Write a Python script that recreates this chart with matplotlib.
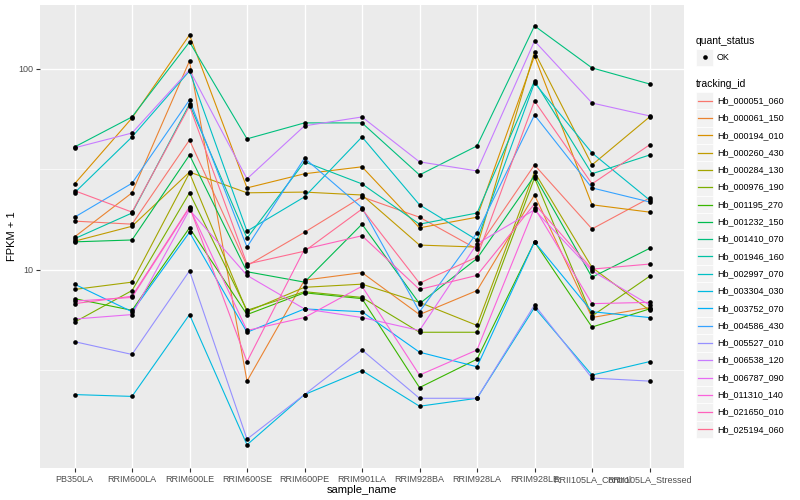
import numpy as np
import matplotlib
matplotlib.use('Agg')
import matplotlib.pyplot as plt
from matplotlib.patches import Rectangle

plt.rcParams['font.family'] = ['Liberation Sans', 'DejaVu Sans']

samples = ['PB350LA', 'RRIM600LA', 'RRIM600LE', 'RRIM600SE', 'RRIM600PE', 'RRIM901LA',
           'RRIM928BA', 'RRIM928LA', 'RRIM928LE', 'RRII105LA_Control', 'RRII105LA_Stressed']

tracking_ids = ['Hb_000051_060', 'Hb_000061_150', 'Hb_000194_010', 'Hb_000260_430', 'Hb_000284_130',
                'Hb_000976_190', 'Hb_001195_270', 'Hb_001232_150', 'Hb_001410_070', 'Hb_001946_160',
                'Hb_002997_070', 'Hb_003304_030', 'Hb_003752_070', 'Hb_004586_430', 'Hb_005527_010',
                'Hb_006538_120', 'Hb_006787_090', 'Hb_011310_140', 'Hb_021650_010', 'Hb_025194_060']

# FPKM + 1, one row per tracking_id, one column per sample
fpkm = [
    [17.5, 16.9, 44.3, 10.5, 15.4, 23.1, 18.3, 12.7, 33.3, 16.0, 22.8],
    [14.6, 24.2, 109.6, 2.8, 8.9, 9.7, 6.0, 7.9, 23.6, 5.8, 6.5],
    [26.8, 57.0, 147.6, 25.6, 30.1, 32.6, 16.2, 18.3, 116.1, 21.1, 19.4],
    [13.9, 16.5, 30.7, 24.2, 24.4, 23.6, 13.3, 13.0, 121.5, 33.3, 57.7],
    [8.0, 8.7, 30.4, 6.2, 8.2, 8.5, 6.9, 5.3, 30.7, 10.3, 6.3],
    [5.5, 7.9, 24.2, 6.3, 7.8, 7.3, 4.9, 4.9, 28.7, 5.9, 9.3],
    [7.2, 6.3, 16.2, 6.0, 7.7, 7.2, 2.6, 3.6, 13.8, 5.2, 6.4],
    [13.8, 14.1, 37.3, 9.8, 8.7, 16.9, 6.8, 11.4, 29.4, 9.2, 12.8],
    [40.9, 57.7, 136.2, 44.9, 53.9, 53.9, 29.7, 41.4, 163.7, 101.2, 84.2],
    [14.3, 19.2, 66.9, 14.4, 34.5, 26.8, 16.9, 19.2, 87.2, 30.1, 37.3],
    [24.2, 45.9, 97.7, 15.6, 23.1, 45.9, 21.1, 14.1, 85.2, 38.2, 22.3],
    [2.4, 2.35, 6.0, 1.35, 2.4, 3.16, 2.1, 2.3, 6.5, 3.0, 3.5],
    [8.5, 6.2, 15.4, 4.9, 6.4, 6.2, 3.9, 3.3, 13.8, 6.2, 5.8],
    [18.3, 27.0, 70.1, 13.0, 36.0, 20.4, 6.2, 15.3, 59.0, 25.6, 21.8],
    [4.4, 3.8, 9.9, 1.44, 2.4, 4.0, 2.3, 2.3, 6.7, 2.9, 2.8],
    [40.5, 48.0, 98.9, 28.4, 52.1, 57.7, 34.5, 31.1, 137.7, 67.7, 58.4],
    [5.7, 6.0, 19.9, 9.4, 6.4, 5.8, 5.0, 13.5, 19.9, 9.9, 6.7],
    [7.0, 7.3, 20.4, 5.0, 5.8, 8.3, 3.0, 4.0, 20.4, 6.8, 6.9],
    [6.8, 7.4, 20.6, 3.5, 12.7, 14.8, 8.0, 9.4, 21.3, 10.1, 10.7],
    [24.8, 19.4, 65.4, 10.7, 12.4, 20.1, 8.6, 11.6, 69.3, 26.8, 41.9],
]

colors = ['#F8766D', '#EA8331', '#D89000', '#C09B00', '#A3A500', '#7CAE00', '#39B600', '#00BB4E',
          '#00BF7D', '#00C1A3', '#00BFC4', '#00BAE0', '#00B0F6', '#35A2FF', '#9590FF', '#C77CFF',
          '#E76BF3', '#FA62DB', '#FF62BC', '#FF6C91']

fig = plt.figure(figsize=(8, 5), dpi=100)
ax = fig.add_axes([0.05, 0.064, 0.805, 0.926])
ax.set_facecolor('#EBEBEB')

x = np.arange(len(samples))
for vals, c in zip(fpkm, colors):
    ax.plot(x, vals, color=c, lw=0.8, zorder=3)
for vals in fpkm:
    ax.scatter(x, vals, color='black', s=11, zorder=4, linewidths=0)

ax.set_yscale('log')
ax.set_ylim(1.035, 208)
ax.set_xlim(-0.6, len(samples) - 0.4)
ax.set_yticks([10, 100])
ax.set_yticklabels(['10', '100'])
ax.set_yticks([10 ** 0.5, 10 ** 1.5], minor=True)
ax.set_yticklabels([], minor=True)
ax.set_xticks(x)
ax.set_xticklabels(samples)
ax.tick_params(axis='both', which='major', length=3, width=0.8, color='#333333',
               labelsize=6.5, labelcolor='#4D4D4D', pad=2)
ax.tick_params(axis='y', which='minor', length=0)
ax.grid(which='major', color='white', lw=1.0, zorder=0)
ax.grid(which='minor', axis='y', color='white', lw=0.5, zorder=0)
ax.set_axisbelow(True)
for s in ax.spines.values():
    s.set_visible(False)
ax.set_xlabel('sample_name', fontsize=8, labelpad=1)
ax.set_ylabel('FPKM + 1', fontsize=8)
ax.yaxis.set_label_coords(-0.036, 0.5)

# legends drawn in pixel coordinates
lax = fig.add_axes([0, 0, 1, 1])
lax.set_xlim(0, 800)
lax.set_ylim(500, 0)
lax.axis('off')

lax.text(696, 41, 'quant_status', fontsize=7.5, va='center', ha='left')
lax.add_patch(Rectangle((696, 48.5), 17, 17, facecolor='#F2F2F2', edgecolor='white', lw=0.5))
lax.scatter([704.5], [57], color='black', s=11, linewidths=0)
lax.text(717, 57, 'OK', fontsize=6.5, va='center', ha='left')

lax.text(696, 84, 'tracking_id', fontsize=7.5, va='center', ha='left')
step = 17.3
for i, (name, c) in enumerate(zip(tracking_ids, colors)):
    yc = 100.7 + i * step
    lax.add_patch(Rectangle((696, yc - step / 2), 17, step, facecolor='#F2F2F2',
                            edgecolor='white', lw=0.5))
    lax.plot([698, 712], [yc, yc], color=c, lw=0.9)
    lax.text(717, yc, name, fontsize=6.5, va='center', ha='left')

fig.savefig('out.png', dpi=100)
